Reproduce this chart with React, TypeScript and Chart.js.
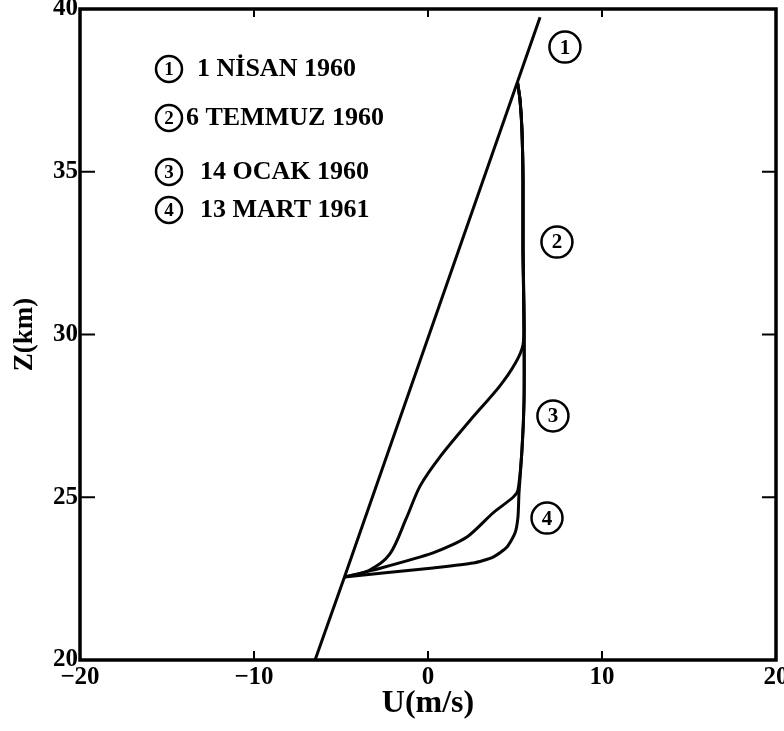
import React, { useEffect, useRef } from 'react';
import { Chart, registerables } from 'chart.js';

Chart.register(...registerables);

// ---- data ----
const seriesLabels = ['1 NİSAN 1960', '6 TEMMUZ 1960', '14 OCAK 1960', '13 MART 1961'];
const seriesNumbers = ['1', '2', '3', '4'];

const xTickValues = [-20, -10, 0, 10, 20];
const xTickLabels = ['−20', '−10', '0', '10', '20'];
const yTickValues = [20, 25, 30, 35, 40];
const yTickLabels = ['20', '25', '30', '35', '40'];

// profile 1 : straight line
const profile1U = [-6.49, -4.8, 6.44];
const profile1Z = [20, 22.55, 39.75];

// profile 2 : bottom curve + vertical part
const profile2U = [-4.8, -2.59, 0.29, 2.59, 3.74, 4.54, 5.0, 5.17, 5.23, 5.4, 5.52, 5.52, 5.46, 5.46, 5.4, 5.29, 5.15];
const profile2Z = [22.55, 22.67, 22.83, 22.98, 23.16, 23.47, 23.9, 24.39, 25.13, 26.45, 27.99, 30.14, 32.6, 34.75, 36.28, 37.2, 37.73];

// profile 3 : upper curve joining the vertical near 29.7 km
const profile3U = [-4.8, -3.4, -2.2, -1.25, -0.45, 0.7, 2.4, 4.1, 5.0, 5.46, 5.52, 5.46, 5.46, 5.4, 5.29, 5.15];
const profile3Z = [22.55, 22.75, 23.25, 24.35, 25.35, 26.25, 27.35, 28.4, 29.1, 29.68, 30.6, 32.6, 34.75, 36.28, 37.2, 37.73];

// profile 4 : middle curve joining the vertical near 25.2 km
const profile4U = [-4.8, -3.16, 0.29, 2.24, 3.74, 4.89, 5.17, 5.4, 5.52, 5.52, 5.46, 5.46, 5.4, 5.29, 5.15];
const profile4Z = [22.55, 22.76, 23.29, 23.78, 24.52, 25.0, 25.22, 26.45, 27.99, 30.14, 32.6, 34.75, 36.28, 37.2, 37.73];

const FONT = '"Liberation Serif", "DejaVu Serif", serif';

const toPoints = (u: number[], z: number[]) => u.map((v, i) => ({ x: v, y: z[i] }));

const decorPlugin = {
  id: 'decor',
  afterDraw(chart: any) {
    const { ctx, chartArea, scales } = chart;
    const { left, right, top, bottom } = chartArea;
    const xs = scales.x;
    const ys = scales.y;
    ctx.save();
    ctx.strokeStyle = '#000';
    ctx.fillStyle = '#000';
    // frame
    ctx.lineWidth = 3.5;
    ctx.strokeRect(left, top, right - left, bottom - top);
    // inner ticks
    ctx.lineWidth = 2;
    const seg = (a: number, b: number, c: number, d: number) => {
      ctx.beginPath();
      ctx.moveTo(a, b);
      ctx.lineTo(c, d);
      ctx.stroke();
    };
    xTickValues.forEach((v) => {
      if (v === xs.min || v === xs.max) return;
      const px = xs.getPixelForValue(v);
      seg(px, bottom, px, bottom - 9);
      seg(px, top, px, top + 8);
    });
    yTickValues.forEach((v) => {
      if (v === ys.min || v === ys.max) return;
      const py = ys.getPixelForValue(v);
      seg(left, py, left + 15, py);
      seg(right, py, right - 14, py);
    });

    // circled curve labels (anchored in data space)
    const anchors = [
      [7.87, 38.83],
      [7.41, 32.84],
      [7.18, 27.5],
      [6.84, 24.36],
    ];
    ctx.textAlign = 'center';
    ctx.textBaseline = 'middle';
    anchors.forEach(([u, z], i) => {
      const cx = xs.getPixelForValue(u);
      const cy = ys.getPixelForValue(z);
      ctx.lineWidth = 2.5;
      ctx.beginPath();
      ctx.arc(cx, cy, 15.5, 0, Math.PI * 2);
      ctx.stroke();
      ctx.font = `bold 21px ${FONT}`;
      ctx.fillText(seriesNumbers[i], cx, cy + 1);
    });

    // legend block
    const rowsY = [69, 118, 172, 210];
    const textX = [197, 186, 200, 200];
    const circleX = 169;
    rowsY.forEach((ry, i) => {
      ctx.lineWidth = 2.5;
      ctx.beginPath();
      ctx.arc(circleX, ry, 13, 0, Math.PI * 2);
      ctx.stroke();
      ctx.textAlign = 'center';
      ctx.font = `bold 19px ${FONT}`;
      ctx.fillText(seriesNumbers[i], circleX, ry + 1);
      ctx.textAlign = 'left';
      ctx.font = `bold 26px ${FONT}`;
      ctx.fillText(chart.data.datasets[i].label, textX[i], ry);
    });
    ctx.restore();
  },
};

export default function App() {
  const canvasRef = useRef<HTMLCanvasElement | null>(null);

  useEffect(() => {
    if (!canvasRef.current) return;
    const common = {
      showLine: true,
      borderColor: '#050505',
      borderWidth: 3,
      pointRadius: 0,
      pointHoverRadius: 0,
      fill: false,
      tension: 0.3,
    };
    const chart = new Chart(canvasRef.current, {
      type: 'scatter',
      data: {
        datasets: [
          { ...common, label: seriesLabels[0], data: toPoints(profile1U, profile1Z), tension: 0 },
          { ...common, label: seriesLabels[1], data: toPoints(profile2U, profile2Z), tension: 0.2 },
          { ...common, label: seriesLabels[2], data: toPoints(profile3U, profile3Z) },
          { ...common, label: seriesLabels[3], data: toPoints(profile4U, profile4Z), tension: 0.25 },
        ],
      },
      options: {
        responsive: false,
        animation: false,
        devicePixelRatio: 1,
        layout: { padding: { left: 0, right: 8, top: 9, bottom: 0 } },
        plugins: {
          legend: { display: false },
          tooltip: { enabled: false },
        },
        scales: {
          x: {
            type: 'linear',
            min: -20,
            max: 20,
            afterBuildTicks: (scale: any) => {
              scale.ticks = xTickValues.map((v) => ({ value: v }));
            },
            afterFit: (scale: any) => {
              scale.height = 71;
              scale.paddingLeft = 0;
              scale.paddingRight = 0;
            },
            grid: { display: false, drawTicks: false },
            border: { display: false },
            ticks: {
              padding: 3,
              color: '#000',
              font: { family: FONT, size: 25, weight: 'bold' },
              maxRotation: 0,
              autoSkip: false,
              callback: (_v: any, i: number) => xTickLabels[i],
            },
            title: {
              display: true,
              text: 'U(m/s)',
              color: '#000',
              font: { family: FONT, size: 32, weight: 'bold' },
              padding: { top: 0, bottom: 8 },
            },
          },
          y: {
            type: 'linear',
            min: 20,
            max: 40,
            afterBuildTicks: (scale: any) => {
              scale.ticks = yTickValues.map((v) => ({ value: v }));
            },
            afterFit: (scale: any) => {
              scale.width = 80;
              scale.paddingTop = 0;
              scale.paddingBottom = 0;
            },
            grid: { display: false, drawTicks: false },
            border: { display: false },
            ticks: {
              padding: 2,
              color: '#000',
              font: { family: FONT, size: 25, weight: 'bold' },
              autoSkip: false,
              callback: (_v: any, i: number) => yTickLabels[i],
            },
            title: {
              display: true,
              text: 'Z(km)',
              color: '#000',
              font: { family: FONT, size: 27, weight: 'bold' },
              padding: { top: 9, bottom: 0 },
            },
          },
        },
      },
      plugins: [decorPlugin],
    } as any);
    return () => chart.destroy();
  }, []);

  return (
    <div style={{ position: 'absolute', left: 0, top: 0, width: 784, height: 731, background: '#fff' }}>
      <canvas ref={canvasRef} width={784} height={731} style={{ display: 'block', width: 784, height: 731 }} />
    </div>
  );
}
